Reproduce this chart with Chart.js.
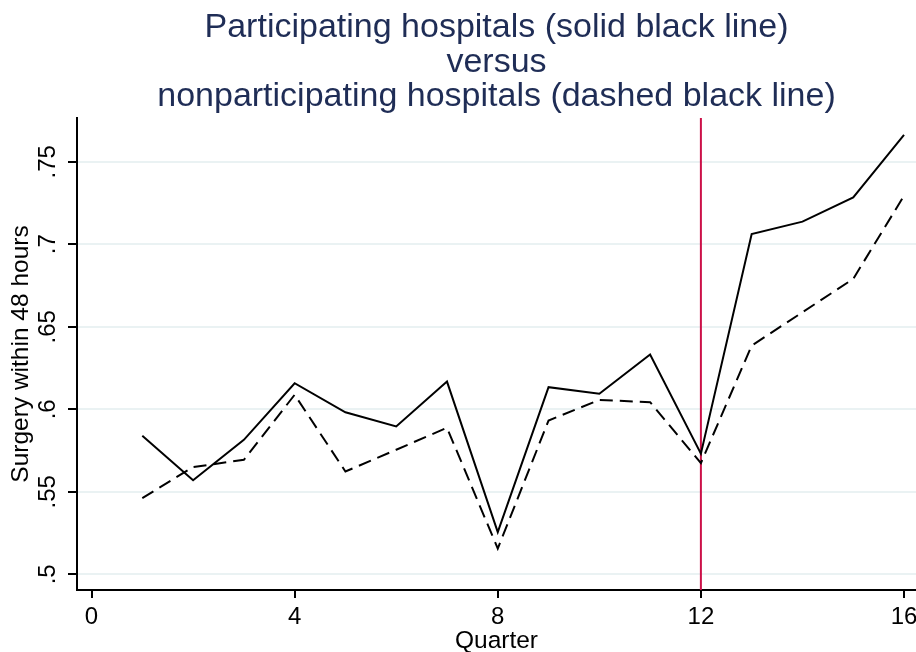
<!DOCTYPE html>
<html lang="en">
<head>
  <meta charset="UTF-8">
  <title>Surgery within 48 hours</title>
  <script src="https://cdn.jsdelivr.net/npm/chart.js"></script>
  <style>
    body { margin: 0; background: #fff; }
    canvas { display: block; }
  </style>
</head>
<body>
  <canvas id="chart" width="916" height="652"></canvas>
  <script>
    // data
    const quarters = [1, 2, 3, 4, 5, 6, 7, 8, 9, 10, 11, 12, 13, 14, 15, 16];
    const participating = [.584, .557, .5815, .6158, .5982, .5896, .6168, .5256, .6134, .6094, .6332, .5731, .7062, .7137, .7284, .7663];
    const nonparticipating = [.5462, .565, .5694, .6088, .5623, .5755, .5888, .5156, .5932, .6057, .6043, .5674, .6386, .6588, .679, .7294];
    const xTicks = [0, 4, 8, 12, 16];
    const yTicks = [.5, .55, .6, .65, .7, .75];
    const yTickLabels = ['.5', '.55', '.6', '.65', '.7', '.75'];
    const cutQuarter = 12;
    const titleLines = ['Participating hospitals (solid black line)', 'versus', 'nonparticipating hospitals (dashed black line)'];

    const FONT = 'Liberation Sans, Arial, sans-serif';

    // title, red reference line and rotated y labels
    const extras = {
      id: 'extras',
      beforeDatasetsDraw(chart) {
        const { ctx, chartArea, scales } = chart;
        const x = scales.x.getPixelForValue(cutQuarter);
        ctx.save();
        ctx.strokeStyle = '#cc1048';
        ctx.lineWidth = 2;
        ctx.beginPath();
        ctx.moveTo(x, chartArea.top);
        ctx.lineTo(x, chartArea.bottom);
        ctx.stroke();
        ctx.restore();
      },
      afterDraw(chart) {
        const { ctx, chartArea, scales } = chart;
        ctx.save();
        ctx.fillStyle = '#1f2d56';
        ctx.font = '34px ' + FONT;
        ctx.textAlign = 'center';
        ctx.textBaseline = 'alphabetic';
        const cx = (chartArea.left + chartArea.right) / 2;
        titleLines.forEach((t, i) => ctx.fillText(t, cx, 37 + i * 34.5));

        ctx.fillStyle = '#000';
        ctx.font = '24px ' + FONT;
        ctx.textBaseline = 'middle';
        yTicks.forEach((v, i) => {
          const y = scales.y.getPixelForValue(v);
          ctx.save();
          ctx.translate(48, y);
          ctx.rotate(-Math.PI / 2);
          ctx.fillText(yTickLabels[i], 0, 0);
          ctx.restore();
        });
        ctx.font = '24.5px ' + FONT;
        ctx.save();
        ctx.translate(21, (chartArea.top + chartArea.bottom) / 2);
        ctx.rotate(-Math.PI / 2);
        ctx.fillText('Surgery within 48 hours', 0, 0);
        ctx.restore();
        ctx.restore();
      }
    };

    new Chart(document.getElementById('chart'), {
      type: 'line',
      data: {
        datasets: [
          {
            label: 'Participating',
            data: quarters.map((q, i) => ({ x: q, y: participating[i] })),
            borderColor: '#000',
            borderWidth: 2,
            pointRadius: 0,
            tension: 0
          },
          {
            label: 'Nonparticipating',
            data: quarters.map((q, i) => ({ x: q, y: nonparticipating[i] })),
            borderColor: '#000',
            borderWidth: 2,
            borderDash: [13, 7],
            pointRadius: 0,
            tension: 0
          }
        ]
      },
      options: {
        responsive: false,
        animation: false,
        layout: { padding: { top: 118, right: 0, bottom: 0, left: 0 } },
        plugins: {
          legend: { display: false },
          tooltip: { enabled: false }
        },
        scales: {
          x: {
            type: 'linear',
            min: -0.286,
            max: 16.236,
            afterFit: s => { s.height = 62; s.paddingLeft = 0; s.paddingRight = 0; },
            afterBuildTicks: s => { s.ticks = xTicks.map(v => ({ value: v })); },
            border: { color: '#000', width: 2 },
            grid: { drawOnChartArea: false, tickColor: '#000', tickLength: 8, lineWidth: 2 },
            ticks: { color: '#000', font: { family: FONT, size: 24 }, padding: 5, maxRotation: 0 },
            title: {
              display: true,
              text: 'Quarter',
              color: '#000',
              font: { family: FONT, size: 24.5, lineHeight: 1 },
              padding: { top: 0, bottom: -1 }
            }
          },
          y: {
            type: 'linear',
            min: 0.4905,
            max: 0.7765,
            afterFit: s => { s.width = 77; },
            afterBuildTicks: s => { s.ticks = yTicks.map(v => ({ value: v })); },
            border: { color: '#000', width: 2 },
            grid: { color: '#eaf2f3', lineWidth: 2, tickColor: '#000', tickLength: 9 },
            ticks: { display: false }
          }
        }
      },
      plugins: [extras]
    });
  </script>
</body>
</html>
